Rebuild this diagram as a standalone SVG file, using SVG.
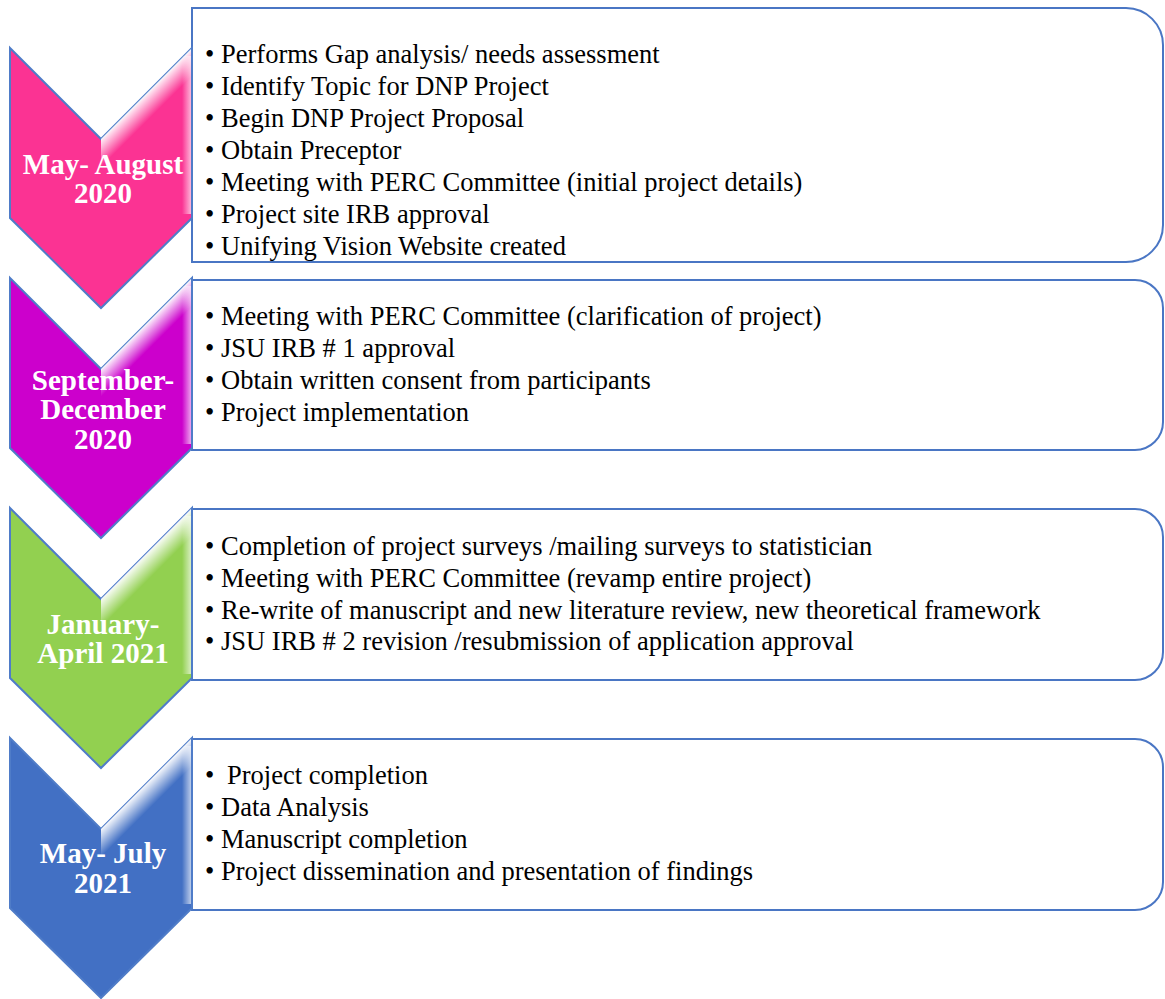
<svg xmlns="http://www.w3.org/2000/svg" width="1165" height="999" viewBox="0 0 1165 999">
<style>
.box{fill:#ffffff;stroke:#4a76c4;stroke-width:2}
.chev{stroke:#4f7cc8;stroke-width:2;stroke-linejoin:miter}
.lbl{font-family:"Liberation Serif","Times New Roman",serif;font-weight:bold;font-size:29px;fill:#ffffff;text-anchor:middle}
.itm{font-family:"Liberation Serif","Times New Roman",serif;font-size:26.5px;fill:#000000}
</style>
<defs>
<linearGradient id="gloss" gradientUnits="userSpaceOnUse" x1="146" y1="46" x2="160" y2="60">
<stop offset="0" stop-color="#ffffff" stop-opacity="0.95"/>
<stop offset="1" stop-color="#ffffff" stop-opacity="0"/>
</linearGradient>
<linearGradient id="edge" gradientUnits="userSpaceOnUse" x1="182" y1="0" x2="192" y2="0">
<stop offset="0" stop-color="#ffffff" stop-opacity="0"/>
<stop offset="1" stop-color="#ffffff" stop-opacity="0.7"/>
</linearGradient>
<polygon id="chevShape" points="10,0 101,91 192,0 192,170 101,260 10,170"/>
</defs>

<g id="box1">
<path class="box" d="M192,8 H1126 A37,37 0 0 1 1163,45 V225 A37,37 0 0 1 1126,262 H192 Z"/>
<text class="itm"><tspan x="205" y="63">•</tspan><tspan x="221" y="63">Performs Gap analysis/ needs assessment</tspan></text>
<text class="itm"><tspan x="205" y="95">•</tspan><tspan x="221" y="95">Identify Topic for DNP Project</tspan></text>
<text class="itm"><tspan x="205" y="127">•</tspan><tspan x="221" y="127">Begin DNP Project Proposal</tspan></text>
<text class="itm"><tspan x="205" y="159">•</tspan><tspan x="221" y="159">Obtain Preceptor</tspan></text>
<text class="itm"><tspan x="205" y="191">•</tspan><tspan x="221" y="191">Meeting with PERC Committee (initial project details)</tspan></text>
<text class="itm"><tspan x="205" y="223">•</tspan><tspan x="221" y="223">Project site IRB approval</tspan></text>
<text class="itm"><tspan x="205" y="255">•</tspan><tspan x="221" y="255">Unifying Vision Website created</tspan></text>
</g>

<g id="box2">
<path class="box" d="M192,280 H1135 A28,28 0 0 1 1163,308 V422 A28,28 0 0 1 1135,450 H192 Z"/>
<text class="itm"><tspan x="205" y="325">•</tspan><tspan x="221" y="325">Meeting with PERC Committee (clarification of project)</tspan></text>
<text class="itm"><tspan x="205" y="357">•</tspan><tspan x="221" y="357">JSU IRB # 1 approval</tspan></text>
<text class="itm"><tspan x="205" y="389">•</tspan><tspan x="221" y="389">Obtain written consent from participants</tspan></text>
<text class="itm"><tspan x="205" y="421">•</tspan><tspan x="221" y="421">Project implementation</tspan></text>
</g>

<g id="box3">
<path class="box" d="M192,509 H1135 A28,28 0 0 1 1163,537 V652 A28,28 0 0 1 1135,680 H192 Z"/>
<text class="itm"><tspan x="205" y="555">•</tspan><tspan x="221" y="555">Completion of project surveys /mailing surveys to statistician</tspan></text>
<text class="itm"><tspan x="205" y="587">•</tspan><tspan x="221" y="587">Meeting with PERC Committee (revamp entire project)</tspan></text>
<text class="itm"><tspan x="205" y="619">•</tspan><tspan x="221" y="619">Re-write of manuscript and new literature review, new theoretical framework</tspan></text>
<text class="itm"><tspan x="205" y="650">•</tspan><tspan x="221" y="650">JSU IRB # 2 revision /resubmission of application approval</tspan></text>
</g>

<g id="box4">
<path class="box" d="M192,739 H1135 A28,28 0 0 1 1163,767 V882 A28,28 0 0 1 1135,910 H192 Z"/>
<text class="itm"><tspan x="205" y="784">•</tspan><tspan x="227" y="784">Project completion</tspan></text>
<text class="itm"><tspan x="205" y="816">•</tspan><tspan x="221" y="816">Data Analysis</tspan></text>
<text class="itm"><tspan x="205" y="848">•</tspan><tspan x="221" y="848">Manuscript completion</tspan></text>
<text class="itm"><tspan x="205" y="880">•</tspan><tspan x="221" y="880">Project dissemination and presentation of findings</tspan></text>
</g>

<g id="connectors"></g>

<g id="chevron1" transform="translate(0,48)">
<use href="#chevShape" class="chev" fill="#fb3393"/>
<polygon points="101,91 191,1 191,30 101,120" fill="url(#gloss)"/>
<rect x="182" y="8" width="9" height="158" fill="url(#edge)"/>
<text class="lbl" x="103" y="126">May- August</text>
<text class="lbl" x="103" y="155">2020</text>
</g>

<g id="chevron2" transform="translate(0,278)">
<use href="#chevShape" class="chev" fill="#cc00cc"/>
<polygon points="101,91 191,1 191,30 101,120" fill="url(#gloss)"/>
<rect x="182" y="8" width="9" height="158" fill="url(#edge)"/>
<text class="lbl" x="103" y="112">September-</text>
<text class="lbl" x="103" y="141">December</text>
<text class="lbl" x="103" y="171">2020</text>
</g>

<g id="chevron3" transform="translate(0,508)">
<use href="#chevShape" class="chev" fill="#92d050"/>
<polygon points="101,91 191,1 191,30 101,120" fill="url(#gloss)"/>
<rect x="182" y="8" width="9" height="158" fill="url(#edge)"/>
<text class="lbl" x="103" y="126">January-</text>
<text class="lbl" x="103" y="155">April 2021</text>
</g>

<g id="chevron4" transform="translate(0,738)">
<use href="#chevShape" class="chev" fill="#4270c4"/>
<polygon points="101,91 191,1 191,30 101,120" fill="url(#gloss)"/>
<rect x="182" y="8" width="9" height="158" fill="url(#edge)"/>
<text class="lbl" x="103" y="125">May- July</text>
<text class="lbl" x="103" y="155">2021</text>
</g>
</svg>
